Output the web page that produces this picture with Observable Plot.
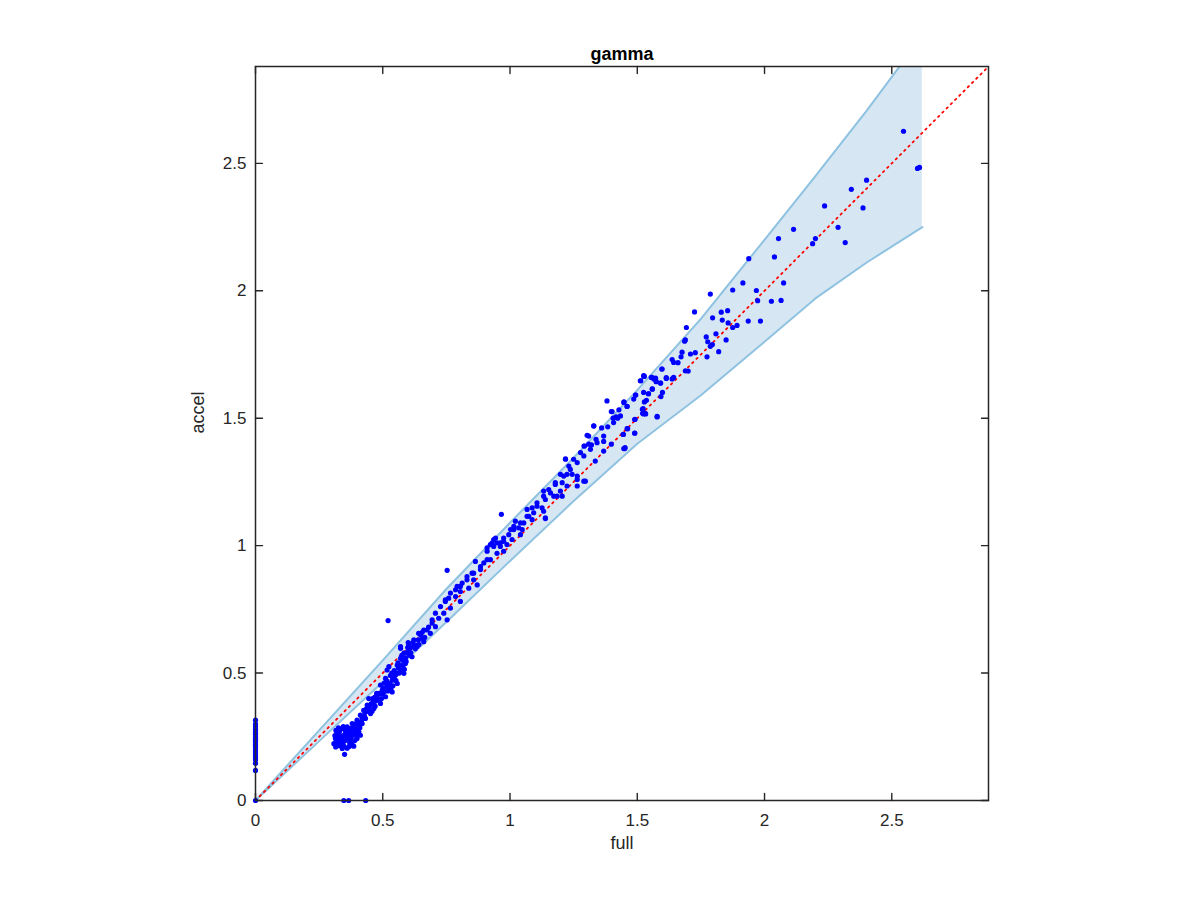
<!DOCTYPE html>
<html><head><meta charset="utf-8">
<script src="https://cdn.jsdelivr.net/npm/d3@7"></script>
<script src="https://cdn.jsdelivr.net/npm/@observablehq/plot@0.6"></script>
<style>body{margin:0;background:#fff;}</style>
</head><body><div id="chart"></div>
<script>
// [full, accel] pairs
const onAxes = [[0,0],[0,0.118],[0,0.146],[0,0.16],[0,0.17],[0,0.18],[0,0.19],[0,0.2],[0,0.21],[0,0.215],[0,0.22],[0,0.23],[0,0.235],[0,0.24],[0,0.245],[0,0.25],[0,0.26],[0,0.265],[0,0.27],[0,0.28],[0,0.29],[0,0.3],[0,0.315],[0.347,0],[0.366,0],[0.433,0]];
const outliers = [[0.521,0.706],[0.753,0.903],[0.966,1.123]];
const lowCluster = [[0.694,0.696],[0.674,0.669],[0.648,0.650],[0.622,0.630],[0.661,0.623],[0.635,0.604],[0.602,0.591],[0.570,0.604],[0.583,0.578],[0.615,0.564],[0.570,0.558],[0.589,0.538],[0.557,0.531],[0.517,0.512],[0.570,0.512],[0.550,0.492],[0.583,0.499],[0.537,0.472],[0.511,0.479],[0.557,0.459],[0.524,0.446],[0.498,0.433],[0.537,0.426],[0.478,0.413],[0.511,0.407],[0.465,0.394],[0.491,0.381],[0.445,0.400],[0.439,0.374],[0.465,0.361],[0.425,0.354],[0.452,0.341],[0.412,0.335],[0.432,0.322],[0.399,0.315],[0.419,0.302],[0.380,0.302],[0.393,0.282],[0.360,0.289],[0.341,0.282],[0.373,0.269],[0.406,0.269],[0.321,0.263],[0.347,0.256],[0.386,0.256],[0.314,0.243],[0.334,0.236],[0.366,0.243],[0.399,0.243],[0.308,0.223],[0.341,0.217],[0.380,0.217],[0.412,0.256],[0.350,0.181],[0.341,0.204],[0.386,0.213],[0.491,0.453],[0.524,0.525],[0.325,0.25],[0.33,0.27],[0.355,0.265],[0.352,0.235],[0.37,0.228],[0.318,0.232],[0.36,0.205],[0.39,0.235],[0.40,0.29],[0.42,0.32],[0.44,0.35],[0.455,0.38],[0.47,0.37],[0.48,0.40],[0.50,0.42],[0.505,0.46],[0.52,0.43],[0.53,0.49],[0.545,0.51],[0.56,0.54],[0.575,0.57],[0.59,0.56],[0.60,0.62],[0.61,0.60],[0.625,0.61],[0.64,0.63],[0.655,0.66],[0.665,0.64],[0.68,0.68],[0.33,0.215],[0.345,0.29],[0.375,0.25],[0.395,0.27],[0.43,0.345],[0.46,0.40],[0.485,0.42],[0.51,0.44],[0.54,0.45],[0.545,0.48],[0.565,0.50],[0.58,0.53],[0.595,0.58],[0.605,0.57],[0.316,0.275],[0.326,0.285],[0.338,0.245],[0.358,0.248],[0.362,0.272],[0.372,0.282],[0.384,0.29],[0.392,0.3],[0.402,0.305],[0.41,0.285],[0.378,0.235],[0.368,0.212],[0.344,0.226],[0.324,0.225],[0.312,0.255],[0.415,0.31],[0.428,0.33],[0.436,0.36],[0.448,0.37],[0.458,0.35],[0.472,0.39],[0.476,0.42],[0.495,0.40],[0.502,0.44],[0.515,0.47],[0.528,0.46],[0.548,0.50],[0.562,0.52],[0.578,0.55],[0.598,0.60],[0.618,0.62],[0.353,0.274],[0.364,0.258],[0.376,0.266],[0.388,0.272],[0.398,0.258],[0.407,0.292],[0.418,0.328],[0.444,0.362],[0.462,0.382],[0.468,0.405],[0.488,0.395],[0.494,0.418],[0.506,0.428],[0.518,0.452],[0.532,0.44],[0.535,0.5],[0.552,0.47],[0.558,0.5],[0.566,0.53],[0.585,0.515],[0.592,0.545],[0.61,0.58],[0.628,0.595],[0.642,0.612],[0.33,0.255],[0.315,0.21],[0.348,0.212]];
const midRun = [[0.943,1.030],[0.930,1.011],[0.962,1.011],[0.975,0.978],[0.949,0.970],[0.910,0.978],[0.923,0.945],[0.897,0.932],[0.864,0.938],[0.884,0.906],[0.851,0.892],[0.831,0.879],[0.857,0.866],[0.812,0.853],[0.871,0.846],[0.838,0.833],[0.805,0.820],[0.792,0.840],[0.786,0.800],[0.759,0.794],[0.746,0.781],[0.805,0.781],[0.727,0.761],[0.766,0.755],[0.740,0.735],[0.707,0.735],[0.694,0.709],[0.720,0.715],[0.753,0.709],[0.707,0.682],[0.661,0.669],[0.687,0.656],[0.641,0.656],[0.655,0.637],[0.602,0.610],[0.635,0.610],[0.570,0.597],[0.746,0.787],[0.766,0.814],[0.786,0.827],[0.805,0.840],[0.831,0.866],[0.857,0.892],[0.884,0.918],[0.910,0.945],[0.936,0.997],[0.975,1.017],[0.936,1.024],[0.949,1.011],[0.962,0.997],[0.923,1.004],[0.910,0.991],[0.988,1.004]];
const upperMid = [[1.015,1.063],[1.041,1.089],[1.067,1.115],[1.106,1.155],[1.132,1.194],[1.159,1.207],[1.178,1.247],[1.211,1.273],[1.237,1.299],[1.264,1.326],[1.290,1.352],[1.316,1.378],[1.342,1.404],[1.368,1.430],[1.407,1.483],[1.434,1.509],[1.447,1.562],[1.486,1.575],[1.525,1.601],[1.565,1.654],[1.597,1.693],[1.643,1.719],[1.139,1.109],[1.185,1.194],[1.224,1.234],[1.264,1.260],[1.296,1.253],[1.335,1.332],[1.368,1.371],[1.447,1.381],[1.490,1.441],[1.525,1.522],[1.578,1.507],[1.643,1.660],[1.689,1.686],[1.218,1.341],[1.381,1.568],[1.401,1.526],[1.329,1.470],[1.525,1.667],[1.512,1.647],[1.303,1.433],[1.309,1.398],[1.292,1.391],[1.277,1.365],[1.250,1.339],[1.218,1.339],[1.231,1.312],[1.198,1.280],[1.224,1.280],[1.244,1.280],[1.264,1.273],[1.205,1.247],[1.178,1.240],[1.264,1.234],[1.290,1.253],[1.132,1.214],[1.152,1.220],[1.139,1.181],[1.172,1.194],[1.198,1.214],[1.205,1.194],[1.106,1.168],[1.087,1.148],[1.067,1.142],[1.093,1.129],[1.126,1.148],[1.132,1.135],[1.074,1.115],[1.087,1.102],[1.139,1.106],[1.054,1.089],[1.021,1.096],[1.015,1.076],[1.002,1.063],[1.034,1.070],[1.048,1.063],[0.995,1.043],[1.041,1.043],[0.975,1.030],[1.008,1.024],[1.329,1.469],[1.309,1.430],[1.291,1.391],[1.338,1.417],[1.368,1.409],[1.360,1.462],[1.384,1.466],[1.398,1.526],[1.405,1.500],[1.417,1.505],[1.428,1.533],[1.460,1.546],[1.423,1.500],[1.445,1.437],[1.462,1.459],[1.491,1.496],[1.494,1.591],[1.527,1.664],[1.528,1.564],[1.536,1.570],[1.525,1.517],[1.533,1.517],[1.520,1.535],[1.544,1.596],[1.559,1.614],[1.558,1.660],[1.574,1.644],[1.591,1.638],[1.578,1.505],[1.614,1.656],[1.593,1.585],[1.599,1.601],[1.452,1.385],[1.398,1.398],[1.320,1.395]];
const topRun = [[2.236,2.333],[2.387,2.325],[2.114,2.241],[2.055,2.205],[2.200,2.205],[2.189,2.185],[2.289,2.249],[2.317,2.189],[1.938,2.126],[2.039,2.133],[1.915,2.031],[2.075,2.031],[1.875,2.003],[1.968,2.001],[1.973,1.961],[2.027,1.959],[2.065,1.962],[1.787,1.987],[1.725,1.917],[1.693,1.856],[1.796,1.894],[1.830,1.916],[1.855,1.922],[1.834,1.885],[1.857,1.874],[1.875,1.856],[1.892,1.864],[1.936,1.881],[1.984,1.881],[1.771,1.819],[1.809,1.831],[1.777,1.800],[1.795,1.789],[1.787,1.782],[1.849,1.807],[1.820,1.761],[1.686,1.802],[1.689,1.807],[1.676,1.759],[1.672,1.741],[1.709,1.752],[1.728,1.757],[1.774,1.741],[1.637,1.730],[1.660,1.718],[1.700,1.685],[1.597,1.693],[1.527,1.665],[1.514,1.647],[1.555,1.660],[1.572,1.657],[1.575,1.643],[1.592,1.638],[1.614,1.659],[1.637,1.654],[1.493,1.591],[1.544,1.596],[1.559,1.615],[1.448,1.564],[1.460,1.547],[1.523,1.538],[1.521,1.519],[1.531,1.519],[1.490,1.495],[1.460,1.459],[1.445,1.436],[1.490,1.442],[1.451,1.381],[2.546,2.626],[2.601,2.480],[2.609,2.484],[2.401,2.434],[2.341,2.398]];

// band (shaded interval) boundaries
const bandX    = [0, 0.25, 0.5, 0.75, 1.0, 1.25, 1.5, 1.75, 2.0, 2.2, 2.4, 2.62];
const bandLow  = [0, 0.233, 0.465, 0.70, 0.94, 1.175, 1.40, 1.59, 1.80, 1.97, 2.11, 2.25];
const bandHigh = [0, 0.275, 0.55, 0.83, 1.09, 1.345, 1.61, 1.89, 2.20, 2.45, 2.705, 3.0];
const diagX = [0, 2.88];
const ticks = [0, 0.5, 1, 1.5, 2, 2.5];
const domain = [0, 2.88];

const points = [...onAxes, ...outliers, ...lowCluster, ...midRun, ...upperMid, ...topRun].map(([f, a]) => ({full: f, accel: a}));
const band = bandX.map((x, i) => ({x, lo: bandLow[i], hi: bandHigh[i]}));
const diag = diagX.map(v => ({x: v, y: v}));
const fmt = d => String(d);
const axisColor = "#262626";
const tickShape = {draw(context, l) { context.moveTo(0, 0); context.lineTo(0, -l); }};
const tickOpts = {length: 7, anchor: "start", shape: tickShape, stroke: axisColor, strokeWidth: 1.4};

const chart = Plot.plot({
  width: 1200, height: 900,
  marginLeft: 255, marginRight: 212, marginTop: 66, marginBottom: 100,
  x: {domain}, y: {domain},
  style: {fontFamily: "'Liberation Sans', Arial, Helvetica, sans-serif", fontSize: "17px", color: axisColor, background: "white"},
  marks: [
    Plot.areaY(band, {x: "x", y1: "lo", y2: "hi", fill: "#d6e7f3", clip: true}),
    Plot.line(band, {x: "x", y: "lo", stroke: "#8ec2e0", strokeWidth: 2, clip: true}),
    Plot.line(band, {x: "x", y: "hi", stroke: "#8ec2e0", strokeWidth: 2, clip: true}),
    Plot.line(diag, {x: "x", y: "y", stroke: "#ff0000", strokeWidth: 1.8, strokeDasharray: "1.6 4.4"}),
    Plot.dot(points, {x: "full", y: "accel", r: 2.6, fill: "#0000ff", stroke: null}),
    Plot.frame({stroke: axisColor, strokeWidth: 1.5}),
    Plot.axisX(ticks, {anchor: "bottom", tickSize: 0, tickPadding: 13, tickFormat: fmt, label: null, fontSize: 17}),
    Plot.axisY(ticks, {anchor: "left", tickSize: 0, tickPadding: 9, tickFormat: fmt, label: null, fontSize: 17}),
    Plot.vector(ticks, {x: d => d, frameAnchor: "bottom", rotate: 0, ...tickOpts}),
    Plot.vector(ticks, {x: d => d, frameAnchor: "top", rotate: 180, ...tickOpts}),
    Plot.vector(ticks, {y: d => d, frameAnchor: "left", rotate: 90, ...tickOpts}),
    Plot.vector(ticks, {y: d => d, frameAnchor: "right", rotate: -90, ...tickOpts}),
    Plot.text(["full"], {text: d => d, frameAnchor: "bottom", dy: 48, fontSize: 18, fill: axisColor}),
    Plot.text(["accel"], {text: d => d, frameAnchor: "left", dx: -57, rotate: -90, fontSize: 18, fill: axisColor}),
    Plot.text(["gamma"], {text: d => d, frameAnchor: "top", dy: -19, fontSize: 18, fontWeight: "bold", fill: "#000"})
  ]
});
document.getElementById("chart").appendChild(chart);
</script>
</body></html>
